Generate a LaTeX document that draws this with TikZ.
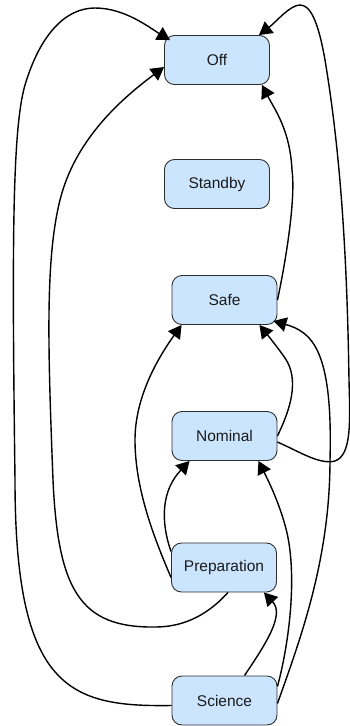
\documentclass[tikz,border=0pt]{standalone}
\usepackage{fontspec}
\setmainfont{Liberation Sans}
\usetikzlibrary{arrows.meta}
\definecolor{statefill}{HTML}{CCE5FF}
\definecolor{stateline}{HTML}{2E2E2E}
\definecolor{statetext}{HTML}{1A1A1A}
\begin{document}
\begin{tikzpicture}[x=1pt,y=-1pt,
  state/.style={draw=stateline, line width=0.9pt, fill=statefill,
    rounded corners=10pt, minimum width=105pt, minimum height=49pt,
    inner sep=0pt, font=\fontsize{15.5}{18}\selectfont, text=statetext},
  trans/.style={line width=1.4pt, -{Triangle[length=13pt,width=14.5pt]}}]
\useasboundingbox (0,0) rectangle (350,726);

% states
\node[state] (off)  at (217,60)    {Off};
\node[state] (stby) at (217,184)   {Standby};
\node[state] (safe) at (224.5,300) {Safe};
\node[state] (nom)  at (224.5,436) {Nominal};
\node[state] (prep) at (224,567.5) {Preparation};
\node[state] (sci)  at (224.5,700.5) {Science};

% Science -> Off, outer loop on the left
\draw[trans] ([shift={(0,5)}]sci.west)
  .. controls (70,707) and (15,690) .. (15,480)
  .. controls (12,250) and (12,130) .. (25,85)
  .. controls (40,35) and (65,8) .. (95,8)
  .. controls (125,8) and (150,28) .. ([shift={(6,5)}]off.north west);

% Preparation -> Off, inner loop on the left
\draw[trans] ([shift={(4,0)}]prep.south)
  .. controls (205,618) and (180,627) .. (155,627)
  .. controls (80,628) and (58,590) .. (53,480)
  .. controls (48,350) and (45,260) .. (60,200)
  .. controls (75,140) and (120,100) .. ([shift={(0,7)}]off.west);

% Safe -> Off
\draw[trans] (safe.east)
  .. controls (285,265) and (296,200) .. (292,170)
  .. controls (290,130) and (275,110) .. ([shift={(-8,0)}]off.south east);

% Nominal -> Off, loop on the right
\draw[trans] ([shift={(0,6)}]nom.east)
  .. controls (300,452) and (320,465) .. (335,461)
  .. controls (352,455) and (350,420) .. (349,380)
  .. controls (347,250) and (340,150) .. (325,60)
  .. controls (318,20) and (310,5) .. (300,5)
  .. controls (290,5) and (276,22) .. ([shift={(-11,0)}]off.north east);

% Preparation -> Safe
\draw[trans] ([shift={(0,10)}]prep.west)
  .. controls (155,540) and (135,490) .. (135,440)
  .. controls (135,395) and (160,355) .. ([shift={(10,0)}]safe.south west);

% Preparation -> Nominal
\draw[trans] ([shift={(0,9)}]prep.north west)
  .. controls (160,520) and (162,490) .. ([shift={(18,0)}]nom.south west);

% Nominal -> Safe
\draw[trans] (nom.east)
  .. controls (290,410) and (300,380) .. (285,358)
  .. controls (278,348) and (270,338) .. ([shift={(-18,0)}]safe.south east);

% Science -> Safe
\draw[trans] ([shift={(0,3)}]sci.east)
  .. controls (300,640) and (330,560) .. (330,460)
  .. controls (333,350) and (312,332) .. ([shift={(-4,-4)}]safe.south east);

% Science -> Nominal
\draw[trans] ([shift={(0,-14)}]sci.east)
  .. controls (290,640) and (298,570) .. (285,525)
  .. controls (278,500) and (268,480) .. ([shift={(-19,0)}]nom.south east);

% Science -> Preparation
\draw[trans] ([shift={(20,0)}]sci.north)
  .. controls (265,645) and (285,615) .. ([shift={(-13,0)}]prep.south east);
\end{tikzpicture}
\end{document}
